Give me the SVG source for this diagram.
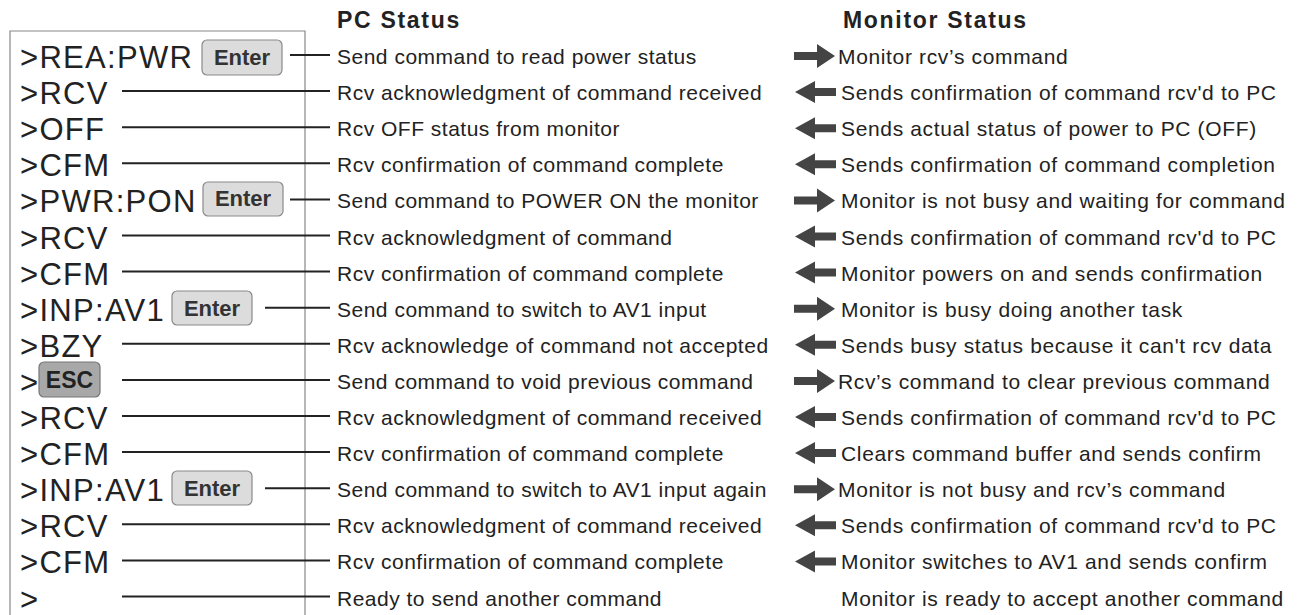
<svg xmlns="http://www.w3.org/2000/svg" xmlns:xlink="http://www.w3.org/1999/xlink" width="1301" height="615" viewBox="0 0 1301 615">
<style>
text{font-family:"Liberation Sans",Arial,Helvetica,sans-serif;fill:#222}
.cmd{font-size:31px;letter-spacing:1.3px}
.pc{font-size:21px;letter-spacing:0.5px}
.mon{font-size:21px;letter-spacing:0.65px}
.hdr{font-size:23px;font-weight:bold;letter-spacing:1.7px}
.btn{fill:#dcdcdc;stroke:#8a8a8a;stroke-width:1.2}
.esc{fill:#a8a8a8;stroke:#777;stroke-width:1.2}
.bt{font-size:22px;font-weight:bold;fill:#333;text-anchor:middle}
.conn line{stroke:#222;stroke-width:2}
.arr{fill:#444}
</style>
<defs>
<path id="aR" class="arr" d="M794,-4 L817,-4 L817,-12 L835,0 L817,12 L817,4 L794,4 Z"/>
<path id="aL" class="arr" d="M795,0 L815,-11 L815,-4 L836,-4 L836,4 L815,4 L815,11 Z"/>
</defs>
<rect width="1301" height="615" fill="#fff"/>
<path d="M10,620 L10,31 L305,31 L305,620" fill="none" stroke="#888" stroke-width="1.2"/>
<text class="hdr" x="337" y="28">PC Status</text>
<text class="hdr" x="843" y="28">Monitor Status</text>
<g class="conn" id="connectors">
<line x1="290" y1="55" x2="330" y2="55"/>
<line x1="122" y1="91.1" x2="330" y2="91.1"/>
<line x1="122" y1="127.2" x2="330" y2="127.2"/>
<line x1="122" y1="163.3" x2="330" y2="163.3"/>
<line x1="290" y1="199.4" x2="330" y2="199.4"/>
<line x1="122" y1="235.5" x2="330" y2="235.5"/>
<line x1="122" y1="271.6" x2="330" y2="271.6"/>
<line x1="265" y1="307.7" x2="330" y2="307.7"/>
<line x1="122" y1="343.8" x2="330" y2="343.8"/>
<line x1="122" y1="379.9" x2="330" y2="379.9"/>
<line x1="122" y1="416" x2="330" y2="416"/>
<line x1="122" y1="452.1" x2="330" y2="452.1"/>
<line x1="265" y1="488.2" x2="330" y2="488.2"/>
<line x1="122" y1="524.3" x2="330" y2="524.3"/>
<line x1="122" y1="560.4" x2="330" y2="560.4"/>
<line x1="122" y1="596.5" x2="330" y2="596.5"/>
<use xlink:href="#aR" transform="translate(0,56)"/>
<use xlink:href="#aL" transform="translate(0,92.1)"/>
<use xlink:href="#aL" transform="translate(0,128.2)"/>
<use xlink:href="#aL" transform="translate(0,164.3)"/>
<use xlink:href="#aR" transform="translate(0,200.4)"/>
<use xlink:href="#aL" transform="translate(0,236.5)"/>
<use xlink:href="#aL" transform="translate(0,272.6)"/>
<use xlink:href="#aR" transform="translate(0,308.7)"/>
<use xlink:href="#aL" transform="translate(0,344.8)"/>
<use xlink:href="#aR" transform="translate(0,380.9)"/>
<use xlink:href="#aL" transform="translate(0,417)"/>
<use xlink:href="#aL" transform="translate(0,453.1)"/>
<use xlink:href="#aR" transform="translate(0,489.2)"/>
<use xlink:href="#aL" transform="translate(0,525.3)"/>
<use xlink:href="#aL" transform="translate(0,561.4)"/>
</g>
<g id="row1">
<text class="cmd" x="20" y="68">&gt;REA:PWR</text>
<rect class="btn" x="202" y="40" width="80" height="35" rx="5"/>
<text class="bt" x="242" y="65">Enter</text>
<text class="pc" x="337" y="64">Send command to read power status</text>
<text class="mon" x="838" y="64">Monitor rcv’s command</text>
</g>
<g id="row2">
<text class="cmd" x="20" y="104.1">&gt;RCV</text>
<text class="pc" x="337" y="100.1">Rcv acknowledgment of command received</text>
<text class="mon" x="841" y="100.1">Sends confirmation of command rcv'd to PC</text>
</g>
<g id="row3">
<text class="cmd" x="20" y="140.2">&gt;OFF</text>
<text class="pc" x="337" y="136.2">Rcv OFF status from monitor</text>
<text class="mon" x="841" y="136.2">Sends actual status of power to PC (OFF)</text>
</g>
<g id="row4">
<text class="cmd" x="20" y="176.3">&gt;CFM</text>
<text class="pc" x="337" y="172.3">Rcv confirmation of command complete</text>
<text class="mon" x="841" y="172.3">Sends confirmation of command completion</text>
</g>
<g id="row5">
<text class="cmd" x="20" y="212.4">&gt;PWR:PON</text>
<rect class="btn" x="203" y="182" width="80" height="34" rx="5"/>
<text class="bt" x="243" y="206.4">Enter</text>
<text class="pc" x="337" y="208.4">Send command to POWER ON the monitor</text>
<text class="mon" x="841" y="208.4">Monitor is not busy and waiting for command</text>
</g>
<g id="row6">
<text class="cmd" x="20" y="248.5">&gt;RCV</text>
<text class="pc" x="337" y="244.5">Rcv acknowledgment of command</text>
<text class="mon" x="841" y="244.5">Sends confirmation of command rcv'd to PC</text>
</g>
<g id="row7">
<text class="cmd" x="20" y="284.6">&gt;CFM</text>
<text class="pc" x="337" y="280.6">Rcv confirmation of command complete</text>
<text class="mon" x="841" y="280.6">Monitor powers on and sends confirmation</text>
</g>
<g id="row8">
<text class="cmd" x="20" y="320.7">&gt;INP:AV1</text>
<rect class="btn" x="172" y="291" width="80" height="34" rx="5"/>
<text class="bt" x="212" y="315.7">Enter</text>
<text class="pc" x="337" y="316.7">Send command to switch to AV1 input</text>
<text class="mon" x="841" y="316.7">Monitor is busy doing another task</text>
</g>
<g id="row9">
<text class="cmd" x="20" y="356.8">&gt;BZY</text>
<text class="pc" x="337" y="352.8">Rcv acknowledge of command not accepted</text>
<text class="mon" x="841" y="352.8">Sends busy status because it can't rcv data</text>
</g>
<g id="row10">
<text class="cmd" x="20" y="392.9">&gt;</text>
<rect class="esc" x="39" y="362" width="61" height="35" rx="5"/>
<text class="bt" x="69.5" y="388" style="font-size:23px;fill:#222">ESC</text>
<text class="pc" x="337" y="388.9">Send command to void previous command</text>
<text class="mon" x="838" y="388.9">Rcv’s command to clear previous command</text>
</g>
<g id="row11">
<text class="cmd" x="20" y="429">&gt;RCV</text>
<text class="pc" x="337" y="425">Rcv acknowledgment of command received</text>
<text class="mon" x="841" y="425">Sends confirmation of command rcv'd to PC</text>
</g>
<g id="row12">
<text class="cmd" x="20" y="465.1">&gt;CFM</text>
<text class="pc" x="337" y="461.1">Rcv confirmation of command complete</text>
<text class="mon" x="841" y="461.1">Clears command buffer and sends confirm</text>
</g>
<g id="row13">
<text class="cmd" x="20" y="501.2">&gt;INP:AV1</text>
<rect class="btn" x="172" y="471" width="80" height="34" rx="5"/>
<text class="bt" x="212" y="496.2">Enter</text>
<text class="pc" x="337" y="497.2">Send command to switch to AV1 input again</text>
<text class="mon" x="838" y="497.2">Monitor is not busy and rcv’s command</text>
</g>
<g id="row14">
<text class="cmd" x="20" y="537.3">&gt;RCV</text>
<text class="pc" x="337" y="533.3">Rcv acknowledgment of command received</text>
<text class="mon" x="841" y="533.3">Sends confirmation of command rcv'd to PC</text>
</g>
<g id="row15">
<text class="cmd" x="20" y="573.4">&gt;CFM</text>
<text class="pc" x="337" y="569.4">Rcv confirmation of command complete</text>
<text class="mon" x="841" y="569.4">Monitor switches to AV1 and sends confirm</text>
</g>
<g id="row16">
<text class="cmd" x="20" y="609.5">&gt;</text>
<text class="pc" x="337" y="605.5">Ready to send another command</text>
<text class="mon" x="841" y="605.5">Monitor is ready to accept another command</text>
</g>
</svg>
